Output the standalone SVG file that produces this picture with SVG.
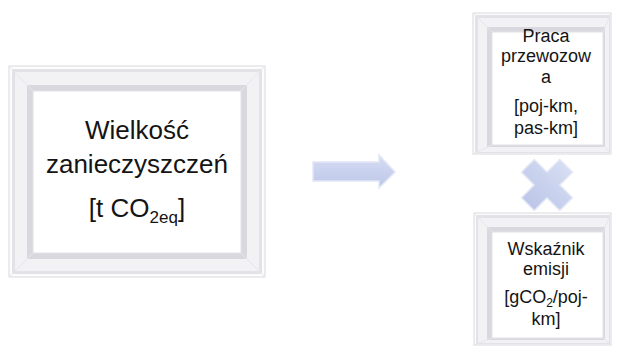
<svg xmlns="http://www.w3.org/2000/svg" width="617" height="350" viewBox="0 0 617 350">
<style>
.f0{fill:#fcfcfd;stroke:#d9d9de;stroke-width:1}
.f1{fill:#e2e2e7}
.f2{fill:#f2f2f4}
.f3{fill:#d8d8de}
.f4{fill:#ffffff;stroke:#e2e2e6;stroke-width:1}
.miter{stroke:#e6e6ea;stroke-width:1;fill:none}
.t{font-family:"Liberation Sans",Arial,sans-serif;fill:#141414;text-anchor:middle}
.big{font-size:26px}
.small{font-size:18px}
</style>
<defs>
<linearGradient id="lav" x1="0" y1="0" x2="0" y2="1">
<stop offset="0" stop-color="#d6ddf3"/>
<stop offset="1" stop-color="#bcc6e8"/>
</linearGradient>
</defs>
<rect width="617" height="350" fill="#ffffff"/>

<g id="connectors">
<polygon points="313,162 379,162 379,155 395,172 379,188 379,181 313,181" fill="url(#lav)" stroke="#e3e7f6" stroke-width="1.5"/>
<g id="multiply" transform="translate(547,185) rotate(45)">
<polygon points="-9,-27 9,-27 9,-9 27,-9 27,9 9,9 9,27 -9,27 -9,9 -27,9 -27,-9 -9,-9" fill="url(#lav)" stroke="#e3e7f6" stroke-width="1.5"/>
</g>
</g>

<g id="node-wielkosc">
<rect class="f0" x="9" y="66" width="256" height="211"/>
<rect class="f1" x="12" y="69" width="250" height="205"/>
<rect class="f2" x="15" y="72" width="244" height="199"/>
<rect class="f3" x="27" y="85" width="220" height="174"/>
<path class="miter" d="M9,66 L33,91 M265,66 L241,91 M9,277 L33,253 M265,277 L241,253"/>
<rect class="f4" x="33" y="91" width="208" height="162"/>
<text class="t big" x="137" y="139">Wielkość</text>
<text class="t big" x="137" y="173">zanieczyszczeń</text>
<text class="t big" x="137" y="217">[t CO<tspan font-size="17" dy="6">2eq</tspan><tspan dy="-6">]</tspan></text>
</g>

<g id="node-praca">
<rect class="f0" x="473" y="13" width="138" height="141"/>
<rect class="f1" x="475" y="15" width="135" height="138"/>
<rect class="f2" x="478" y="18" width="131" height="134"/>
<rect class="f3" x="487" y="27" width="118" height="120"/>
<path class="miter" d="M473,13 L492,32 M611,13 L603,32 M473,154 L492,145 M611,154 L603,145"/>
<rect class="f4" x="492" y="32" width="111" height="113"/>
<text class="t small" x="546" y="42">Praca</text>
<text class="t small" x="546" y="62">przewozow</text>
<text class="t small" x="546" y="83">a</text>
<text class="t small" x="546" y="112">[poj-km,</text>
<text class="t small" x="546" y="134">pas-km]</text>
</g>

<g id="node-wskaznik">
<rect class="f0" x="474" y="213" width="137" height="132"/>
<rect class="f1" x="476" y="215" width="134" height="129"/>
<rect class="f2" x="478" y="218" width="131" height="125"/>
<rect class="f3" x="487" y="227" width="118" height="113"/>
<path class="miter" d="M474,213 L492,232 M611,213 L603,232 M474,345 L492,338 M611,345 L603,338"/>
<rect class="f4" x="492" y="232" width="111" height="106"/>
<text class="t small" x="546" y="255">Wskaźnik</text>
<text class="t small" x="546" y="275">emisji</text>
<text class="t small" x="546" y="303">[gCO<tspan font-size="12" dy="4">2</tspan><tspan dy="-4">/poj-</tspan></text>
<text class="t small" x="546" y="325">km]</text>
</g>
</svg>
